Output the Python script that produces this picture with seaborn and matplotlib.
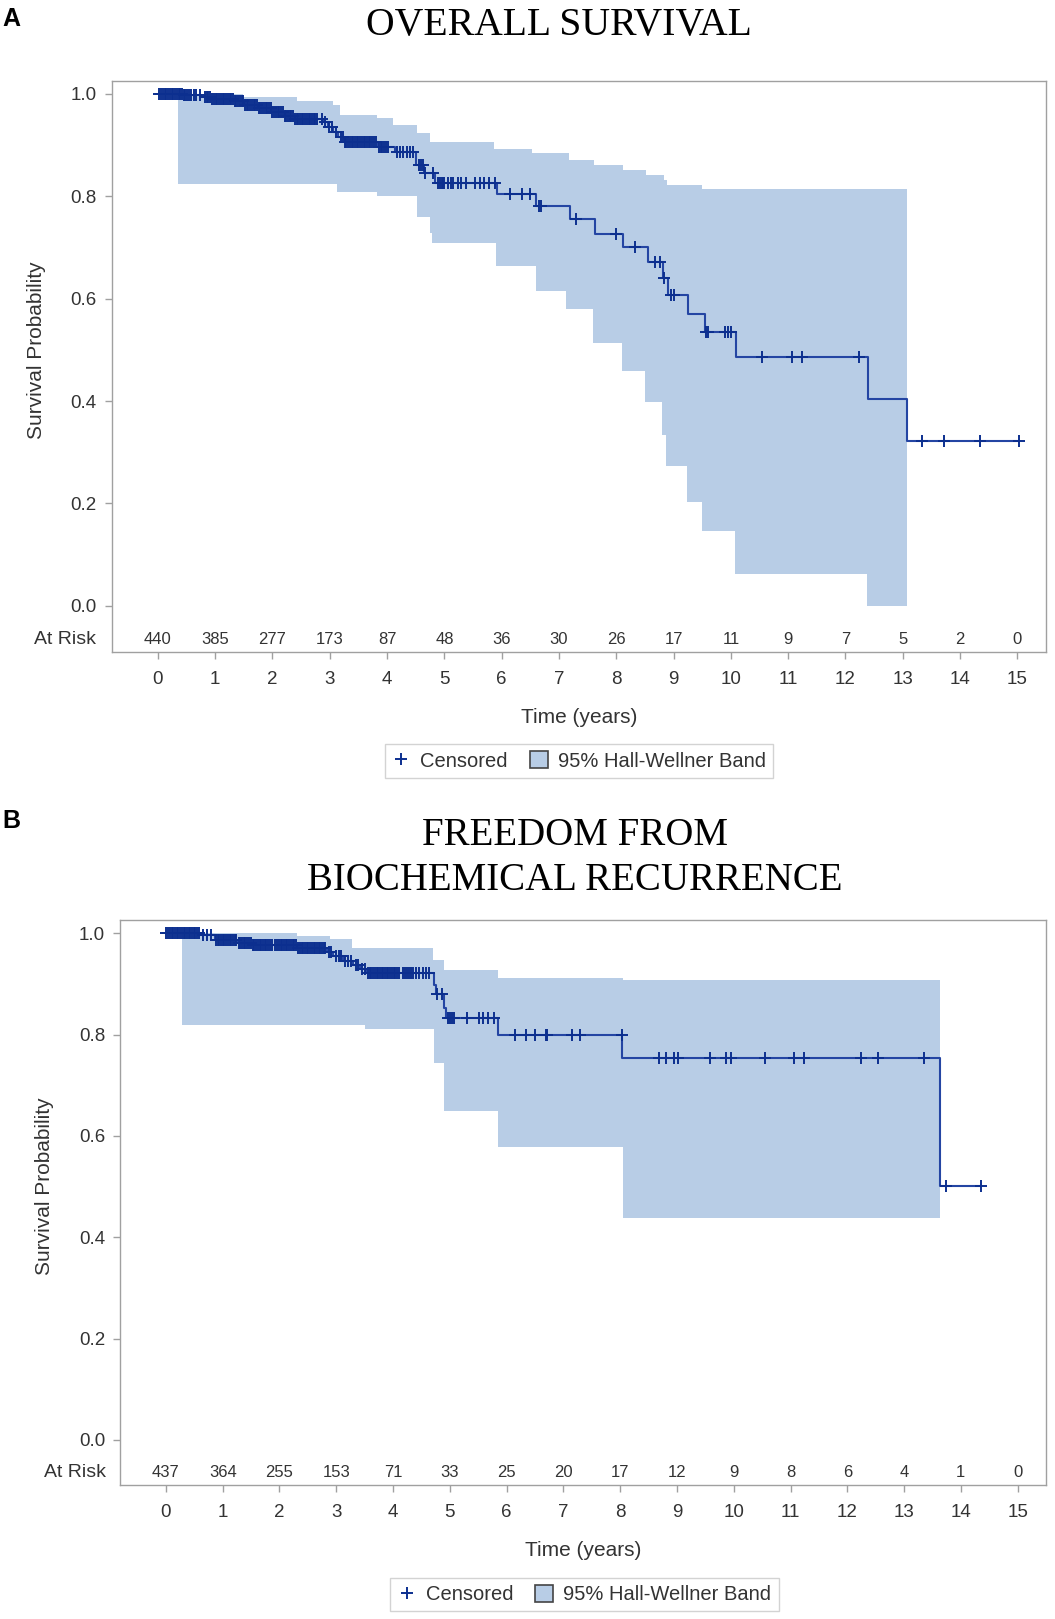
import numpy as np
import seaborn as sns
import matplotlib.pyplot as plt
from matplotlib.lines import Line2D
from matplotlib.patches import Patch

# ---- data ----
years = list(range(16))

# Panel A: overall survival (KM steps: event time, survival after it)
os_time = [0.0, 0.45, 0.76, 0.93, 1.34, 1.51, 1.75, 1.98, 2.21, 2.39, 2.88, 2.97, 3.06, 3.14, 3.26,
           3.84, 4.13, 4.51, 4.65, 4.83, 5.91, 6.60, 7.19, 7.62, 8.12, 8.55, 8.81, 8.90, 9.25, 9.54,
           10.09, 12.39, 13.08]
os_surv = [1.000, 0.997, 0.994, 0.990, 0.985, 0.979, 0.972, 0.965, 0.956, 0.950, 0.945, 0.936, 0.926,
           0.916, 0.906, 0.897, 0.886, 0.861, 0.845, 0.826, 0.804, 0.781, 0.755, 0.726, 0.700, 0.671,
           0.640, 0.607, 0.570, 0.535, 0.485, 0.404, 0.322]
os_end = 15.02
os_cens = [0.02, 0.06, 0.09, 0.12, 0.15, 0.18, 0.21, 0.24, 0.27, 0.30, 0.33, 0.36, 0.39, 0.42, 0.45,
           0.48, 0.51, 0.54, 0.57, 0.63, 0.67, 0.73,
           0.82, 0.85, 0.88, 0.91, 0.95, 0.98, 1.01, 1.04, 1.07, 1.10, 1.13, 1.16, 1.19, 1.22, 1.25,
           1.28, 1.31, 1.34, 1.37, 1.40, 1.43, 1.46, 1.49, 1.52, 1.55, 1.58, 1.61, 1.64, 1.67, 1.70,
           1.73, 1.76, 1.79, 1.82, 1.85, 1.88, 1.91, 1.94, 1.97, 2.00, 2.03, 2.06, 2.09, 2.12, 2.15,
           2.18, 2.21, 2.24, 2.27, 2.30, 2.33, 2.36, 2.39, 2.42, 2.45, 2.48, 2.51, 2.54, 2.57, 2.60,
           2.63, 2.66, 2.69, 2.72, 2.75, 2.78,
           2.86, 2.92, 2.98, 3.04, 3.10,
           3.20, 3.23, 3.26, 3.29, 3.32, 3.35, 3.38, 3.41, 3.44, 3.47, 3.50, 3.53, 3.56, 3.59, 3.62,
           3.65, 3.68, 3.71, 3.74, 3.77, 3.80, 3.86, 3.89, 3.92, 3.95, 3.98, 4.01,
           4.17, 4.22, 4.28, 4.34, 4.40, 4.46, 4.55, 4.60, 4.63, 4.67, 4.81,
           4.89, 4.92, 4.95, 4.98, 5.00, 5.06, 5.11, 5.15, 5.24, 5.29, 5.38, 5.53, 5.63, 5.70, 5.77,
           5.88, 6.14, 6.35, 6.49, 6.66, 6.69, 7.30, 8.00, 8.32, 8.67, 8.76, 8.84, 8.95, 9.01,
           9.57, 9.60, 9.89, 9.95, 10.01, 10.55, 11.07, 11.24, 12.23, 13.33, 13.72, 14.35, 15.02]
os_up_t = [0.35, 1.49, 2.42, 3.06, 3.18, 3.82, 4.11, 4.52, 4.75, 5.86, 6.53, 7.17, 7.61, 8.11, 8.51,
           8.83, 8.89, 9.50]
os_up_v = [1.000, 0.994, 0.985, 0.978, 0.959, 0.952, 0.939, 0.923, 0.906, 0.892, 0.884, 0.870, 0.861,
           0.852, 0.842, 0.832, 0.822, 0.814]
os_lo_t = [0.35, 3.13, 3.82, 4.52, 4.75, 4.79, 5.90, 6.60, 7.12, 7.60, 8.10, 8.50, 8.79, 8.87, 9.24,
           9.49, 10.07, 12.37]
os_lo_v = [0.824, 0.809, 0.800, 0.760, 0.728, 0.708, 0.664, 0.614, 0.580, 0.513, 0.459, 0.399, 0.334,
           0.274, 0.203, 0.146, 0.063, 0.000]
os_band_end = 13.08
os_risk = [440, 385, 277, 173, 87, 48, 36, 30, 26, 17, 11, 9, 7, 5, 2, 0]

# Panel B: freedom from biochemical recurrence
bcr_time = [0.0, 0.60, 0.86, 1.25, 1.51, 2.30, 2.83, 2.95, 3.12, 3.30, 3.42, 3.53, 4.72, 4.76, 4.90,
            4.94, 5.85, 8.04, 13.64]
bcr_surv = [1.000, 0.997, 0.986, 0.980, 0.976, 0.971, 0.963, 0.955, 0.946, 0.937, 0.929, 0.922, 0.898,
            0.881, 0.852, 0.833, 0.800, 0.754, 0.501]
bcr_end = 14.36
bcr_cens = [0.01, 0.04, 0.07, 0.10, 0.13, 0.16, 0.19, 0.22, 0.25, 0.28, 0.31, 0.34, 0.37, 0.40, 0.43,
            0.46, 0.49, 0.52, 0.55, 0.58, 0.66, 0.72, 0.80,
            0.88, 0.91, 0.94, 0.97, 1.00, 1.03, 1.06, 1.09, 1.12, 1.15, 1.18, 1.21, 1.24, 1.28, 1.31,
            1.34, 1.37, 1.40, 1.43, 1.46, 1.49, 1.53, 1.56, 1.59, 1.62, 1.65, 1.68, 1.71, 1.74, 1.77,
            1.80, 1.83, 1.86,
            1.93, 1.96, 1.99, 2.02, 2.05, 2.08, 2.11, 2.14, 2.17, 2.20, 2.23, 2.26, 2.29, 2.33, 2.36,
            2.39, 2.42, 2.45, 2.48, 2.51, 2.54, 2.57, 2.60, 2.63, 2.66, 2.69, 2.72, 2.75, 2.78, 2.81,
            2.87, 2.91, 2.99, 3.04, 3.08, 3.16, 3.21, 3.26, 3.34, 3.38, 3.46, 3.50,
            3.56, 3.59, 3.62, 3.65, 3.68, 3.71, 3.74, 3.77, 3.80, 3.83, 3.86, 3.89, 3.92, 3.95, 3.98,
            4.01, 4.04, 4.07, 4.10,
            4.17, 4.21, 4.25, 4.28, 4.31, 4.35, 4.40, 4.45, 4.52, 4.58, 4.64, 4.77, 4.86,
            4.97, 5.01, 5.04, 5.08, 5.30, 5.52, 5.59, 5.67, 5.78,
            6.15, 6.35, 6.50, 6.69, 6.71, 7.16, 7.30, 8.03,
            8.69, 8.80, 8.95, 9.02, 9.59, 9.87, 9.96, 10.55, 11.07, 11.24, 12.25, 12.54, 13.35,
            13.73, 14.36]
bcr_up_t = [0.28, 2.30, 2.89, 3.27, 4.71, 4.90, 5.85, 8.05]
bcr_up_v = [1.000, 0.995, 0.989, 0.971, 0.948, 0.927, 0.912, 0.907]
bcr_lo_t = [0.28, 3.51, 4.72, 4.90, 5.85, 8.05]
bcr_lo_v = [0.818, 0.811, 0.743, 0.650, 0.578, 0.438]
bcr_band_end = 13.64
bcr_risk = [437, 364, 255, 153, 71, 33, 25, 20, 17, 12, 9, 8, 6, 4, 1, 0]

# ---- style ----
band_color = '#b8cde6'
line_color = '#2445a3'
mark_color = '#0c2f8f'
text_color = '#333333'
spine_color = '#a0a0a0'

sns.set_theme(style='white')
plt.rcParams['font.family'] = ['Liberation Sans', 'DejaVu Sans']


def step_at(times, vals, t):
    idx = np.searchsorted(times, t, side='right') - 1
    return np.asarray(vals)[idx]


def km_panel(ax, time, surv, end, cens, up_t, up_v, lo_t, lo_v, band_end, risk, ylo, yhi,
             risk_x, ylab_x):
    # confidence band
    grid = np.union1d(up_t, lo_t)
    hi = step_at(up_t, up_v, grid)
    lo = step_at(lo_t, lo_v, grid)
    gx = np.append(grid, band_end)
    ax.fill_between(gx, np.append(lo, lo[-1]), np.append(hi, hi[-1]), step='post',
                    color=band_color, linewidth=0)
    # survival curve
    sns.lineplot(x=time + [end], y=surv + [surv[-1]], drawstyle='steps-post', estimator=None,
                 sort=False, color=line_color, linewidth=1.5, ax=ax)
    # censored marks
    ax.plot(cens, step_at(time, surv, cens), ls='none', marker='+', markersize=8.5,
            markeredgewidth=1.4, color=mark_color)
    # at-risk row
    for yr, n in zip(years, risk):
        ax.text(yr, -0.065, str(n), ha='center', va='center', fontsize=12, color=text_color)
    ax.text(risk_x, -0.065, 'At Risk', transform=ax.get_yaxis_transform(), ha='right',
            va='center', fontsize=14, color=text_color)

    ax.set_xlim(-0.8, 15.5)
    ax.set_ylim(ylo, yhi)
    ax.set_xticks(years)
    ax.set_yticks([0.0, 0.2, 0.4, 0.6, 0.8, 1.0])
    ax.set_yticklabels(['0.0', '0.2', '0.4', '0.6', '0.8', '1.0'])
    ax.tick_params(axis='both', direction='out', length=5, width=1, color=spine_color,
                   labelsize=13.5, labelcolor=text_color, left=True, bottom=True)
    ax.tick_params(axis='y', pad=6)
    ax.tick_params(axis='x', pad=9)
    for s in ax.spines.values():
        s.set_color(spine_color)
        s.set_linewidth(1)
    ax.set_xlabel('Time (years)', fontsize=15, color=text_color, labelpad=14)
    ax.set_ylabel('Survival Probability', fontsize=15, color=text_color)
    ax.yaxis.set_label_coords(ylab_x, (0.5 - ylo) / (yhi - ylo))


fig = plt.figure(figsize=(10.55, 16.19), dpi=100)
axA = fig.add_axes([0.1062, 0.5973, 0.8853, 0.3527])
axB = fig.add_axes([0.1142, 0.0828, 0.8773, 0.3489])

km_panel(axA, os_time, os_surv, os_end, os_cens, os_up_t, os_up_v, os_lo_t, os_lo_v, os_band_end,
         os_risk, -0.090, 1.025, -0.017, -0.071)
km_panel(axB, bcr_time, bcr_surv, bcr_end, bcr_cens, bcr_up_t, bcr_up_v, bcr_lo_t, bcr_lo_v,
         bcr_band_end, bcr_risk, -0.089, 1.026, -0.016, -0.072)

# titles and panel letters
fig.text(0.530, 0.984, 'OVERALL SURVIVAL', ha='center', va='center', fontsize=28.5,
         family='Liberation Serif', color='black')
fig.text(0.545, 0.484, 'FREEDOM FROM', ha='center', va='center', fontsize=28,
         family='Liberation Serif', color='black')
fig.text(0.545, 0.456, 'BIOCHEMICAL RECURRENCE', ha='center', va='center', fontsize=28,
         family='Liberation Serif', color='black')
fig.text(0.002, 0.988, 'A', ha='left', va='center', fontsize=18, fontweight='bold', color='black')
fig.text(0.002, 0.493, 'B', ha='left', va='center', fontsize=18, fontweight='bold', color='black')

# legends
handles = [Line2D([], [], ls='none', marker='+', markersize=9, markeredgewidth=1.4, color=mark_color),
           Patch(facecolor=band_color, edgecolor='#444444', linewidth=1.2)]
labels = ['Censored', '95% Hall-Wellner Band']
for cy, cx in [(0.530, 0.549), (0.0151, 0.554)]:
    leg = fig.legend(handles, labels, loc='center', bbox_to_anchor=(cx, cy), ncol=2, frameon=True,
                     fancybox=False, edgecolor='#c8c8c8', fontsize=14.5, handlelength=0.9,
                     handleheight=0.9, handletextpad=0.5, columnspacing=1.1, borderpad=0.35)
    for t in leg.get_texts():
        t.set_color(text_color)

fig.savefig('out.png', dpi=100, facecolor='white')
